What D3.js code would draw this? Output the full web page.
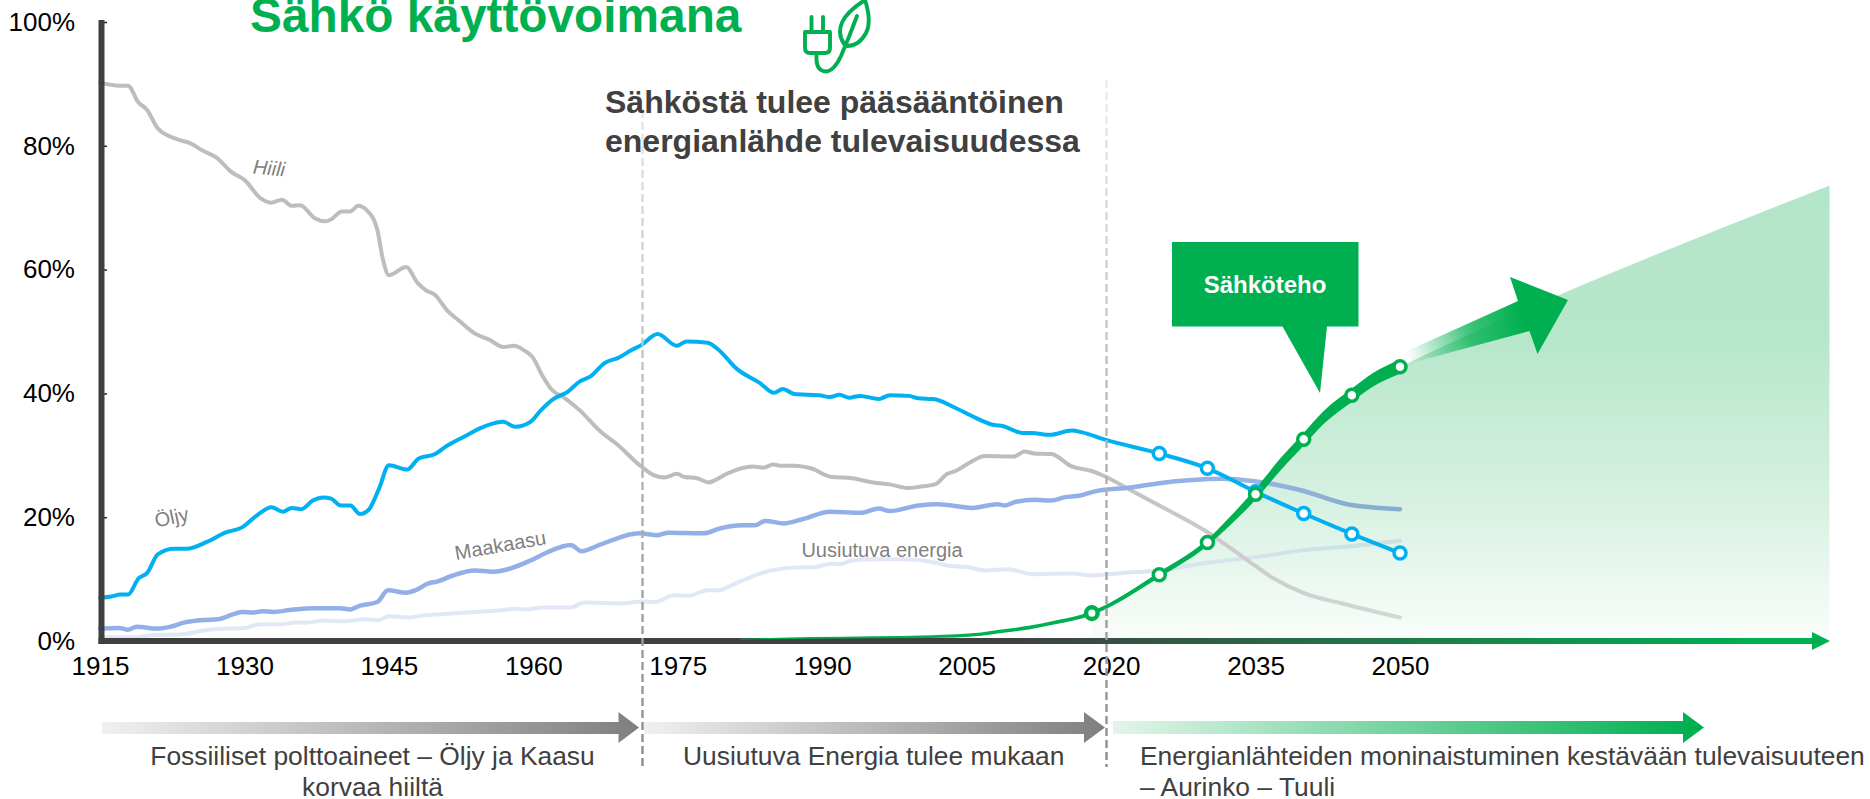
<!DOCTYPE html>
<html>
<head>
<meta charset="utf-8">
<script src="https://cdn.jsdelivr.net/npm/d3@7"></script>
<style>
  html, body { margin: 0; padding: 0; background: #fff; overflow: hidden; }
  text { font-family: "Liberation Sans", Arial, sans-serif; }
</style>
</head>
<body>
<div id="chart"></div>
<script>
// Values: [year, share of energy use in %]
var coal = [[1915,90.2],[1917,89.7],[1917.9,89.7],[1919,87],[1919.9,85.8],[1921,82.8],[1923.1,81],[1924.4,80.4],[1925.7,79.2],[1927,78.2],[1928.7,75.7],[1930,74.5],[1931.7,71.5],[1932.8,70.8],[1933.9,71.3],[1934.9,70.3],[1935.8,70.4],[1937.3,68.3],[1938.4,67.8],[1939,68.1],[1940.1,69.4],[1941,69.4],[1941.8,70.3],[1942.7,69.6],[1943.8,66.4],[1944.4,61.5],[1945,59.1],[1946.8,60.4],[1948,57.8],[1948.9,56.6],[1949.8,55.9],[1951,53.5],[1952.4,51.6],[1953.9,49.7],[1955.4,48.7],[1956.9,47.5],[1958,47.7],[1959,47],[1959.9,45.9],[1961,42.7],[1961.8,40.8],[1963.3,39.2],[1964.8,37.3],[1967,33.8],[1968.6,31.9],[1971.2,28.2],[1972.5,26.8],[1973.6,26.4],[1974.9,27],[1975.7,26.5],[1977,26.3],[1978.2,25.6],[1978.9,26],[1980.2,27.1],[1982.8,28.2],[1983.9,28],[1984.9,28.5],[1985.8,28.3],[1987.1,28.3],[1988.8,27.9],[1991,26.5],[1993.1,26.3],[1995.3,25.6],[1997,25.3],[1999,24.7],[2000,24.9],[2001.7,25.3],[2003,27],[2003.9,27.5],[2005.2,28.7],[2006.9,29.9],[2009.9,29.8],[2011,30.6],[2012,30.3],[2013.8,30.2],[2015.9,28.2],[2017.9,27.5],[2019.2,26.7],[2022,24.4],[2025,21.9],[2029.9,17.7],[2034.2,13],[2036.9,10.1],[2040.1,7.7],[2043.9,6.1],[2050,3.8]];

var oil = [[1915,7],[1916.2,7.2],[1917.1,7.5],[1917.9,7.5],[1919,10.1],[1919.9,11],[1921,14],[1922.7,14.9],[1924,14.9],[1926.1,16],[1928,17.5],[1929.8,18.4],[1931.3,20.3],[1932.8,21.6],[1934,20.9],[1934.9,21.5],[1935.9,21.3],[1937.1,22.7],[1938.2,23.2],[1939,23],[1940,21.9],[1941,21.9],[1942,20.5],[1942.9,21.2],[1944,24.7],[1945,28.4],[1946.9,27.7],[1948.1,29.5],[1949.8,30.2],[1950.9,31.4],[1952.8,33],[1955,34.7],[1956.9,35.4],[1958.1,34.6],[1959.7,35.4],[1960.8,37.3],[1962,39],[1963.6,40.3],[1964.8,41.9],[1965.9,42.7],[1967.4,44.9],[1968.9,45.8],[1970.2,47],[1971.2,47.8],[1972.9,49.6],[1974.9,47.7],[1975.9,48.4],[1978.1,48.2],[1979.2,47.1],[1981.1,44],[1983.5,41.7],[1985,40.1],[1985.9,40.7],[1987.1,39.9],[1989.7,39.7],[1990.8,39.4],[1991.8,39.8],[1992.8,39.3],[1993.9,39.6],[1995.9,39.1],[1997,39.7],[1999,39.6],[2000,39.2],[2001.5,39.1],[2003.9,37.6],[2005.6,36.3],[2007.8,34.9],[2008.8,34.7],[2010.8,33.6],[2011.8,33.6],[2013.6,33.3],[2015.9,34],[2017,33.7],[2019.2,32.6],[2025,30.3],[2030,27.9],[2035,24.1],[2040,20.6],[2045,17.3],[2050,14.2]];

var gas = [[1915,2],[1917,2.1],[1917.9,1.8],[1918.8,2.3],[1921,2],[1922.3,2.3],[1923.8,3],[1925.7,3.4],[1927.2,3.5],[1929.8,4.7],[1930.9,4.6],[1931.9,4.8],[1933,4.7],[1934.7,5],[1937.3,5.3],[1939.9,5.3],[1941,5.1],[1942,5.7],[1943.8,6.3],[1944.9,8.2],[1946.8,7.8],[1947.9,8.3],[1949.1,9.3],[1950,9.6],[1951.5,10.5],[1953.9,11.4],[1955.8,11.2],[1959.7,13],[1961.4,14.3],[1963.9,15.5],[1965,14.5],[1967,15.6],[1971,17.4],[1972.9,17.1],[1974,17.5],[1977.7,17.4],[1979.4,18.2],[1981.7,18.7],[1983,18.7],[1984.1,19.4],[1986,19],[1988,19.7],[1990.8,20.9],[1994,20.7],[1995.9,21.4],[1997,21],[2000,21.9],[2002,22.1],[2005.6,21.5],[2008.2,22.1],[2009,21.9],[2010.1,22.5],[2012.1,22.8],[2013.8,22.7],[2015.1,23.2],[2016.8,23.5],[2018.1,24.1],[2022,24.8],[2025,25.5],[2028.4,26],[2031.4,26.2],[2034.9,25.8],[2039.6,24.4],[2044.5,22.1],[2050,21.3]];

var renewable = [[1915,0.6],[1918.8,0.6],[1920.1,0.9],[1923.6,1.1],[1925.7,1.7],[1928.3,2],[1930,2.1],[1931.7,2.7],[1933.9,2.7],[1935.2,3],[1936.4,2.95],[1938.2,3.3],[1940.3,3.2],[1942.7,3.5],[1944,3.4],[1945,4],[1947,3.8],[1948.9,4.2],[1951,4.4],[1954,4.7],[1956.9,5],[1958,5.2],[1959.2,5.1],[1961,5.4],[1963.8,5.4],[1965.3,6.2],[1969.5,6.1],[1971.2,6.4],[1972.7,6.3],[1974.6,7.4],[1976.1,7.3],[1978.1,8.2],[1979.2,8.2],[1981.1,9.4],[1985,11.5],[1988,11.9],[1989,11.9],[1991,12.5],[1991.8,12.4],[1993.1,13],[1995.3,13.2],[1998.7,13.2],[2001.3,12.8],[2003,12.2],[2005.2,11.9],[2006.9,11.4],[2009.3,11.6],[2011.8,10.8],[2015.9,10.9],[2018.1,10.6],[2021.1,11],[2025,11.4],[2029.8,12.6],[2035.3,13.6],[2039.6,14.6],[2044.9,15.3],[2050,16.2]];

var electricity = [[1981.5,0.3],[1989,0.5],[2001.3,0.7],[2006.5,1.1],[2008.2,1.5],[2011.6,2.2],[2014.2,3],[2018,4.5],[2025,10.7],[2030,15.9],[2032.3,19.3],[2035,23.7],[2037.4,28.2],[2040,32.6],[2042,36],[2045,39.7],[2047.2,42.2],[2050,44.3]];

// Open circles on the forecast part
var oilMarkerYears = [2025, 2030, 2035, 2040, 2045, 2050];
var electricityMarkerYears = [2018, 2025, 2030, 2035, 2040, 2045, 2050];

// Upper edge of the shaded forecast wedge after 2050
var wedgeEdge = [[2050,44.3],[2094.6,73.6]];

var yearTicks = [1915, 1930, 1945, 1960, 1975, 1990, 2005, 2020, 2035, 2050];
var shareTicks = [0, 20, 40, 60, 80, 100];

var w = 1870, h = 799;
var green = "#00b050", blue = "#00b0f0", dark = "#404040";

var x = d3.scaleLinear().domain([1915, 2050]).range([100, 1400]);
var y = d3.scaleLinear().domain([0, 100]).range([641, 22]);

// Thickness of the electricity line grows towards 2050
var thickness = d3.scaleLinear().domain([1981, 1995, 2018, 2030, 2036, 2050]).range([0.5, 2.5, 4, 6.5, 12, 14]);

var svg = d3.select("#chart").append("svg")
    .attr("width", w)
    .attr("height", h)
    .style("display", "block");

var defs = svg.append("defs");

// Helper for horizontal/vertical gradients in page coordinates
function gradient(id, x1, y1, x2, y2, stops) {
    var g = defs.append("linearGradient")
        .attr("id", id)
        .attr("gradientUnits", "userSpaceOnUse")
        .attr("x1", x1).attr("y1", y1)
        .attr("x2", x2).attr("y2", y2);
    stops.forEach(function(s) {
        g.append("stop")
            .attr("offset", s[0])
            .attr("stop-color", s[1])
            .attr("stop-opacity", s[2] === undefined ? 1 : s[2]);
    });
}

gradient("wedgeFill", 0, 186, 0, 640, [[0, "#b3e5c8"], [0.34, "#b7e7cb"], [0.7, "#d7f1e2"], [1, "#fafdfb"]]);
gradient("coalStroke", x(2015), 0, x(2050), 0, [[0, "#bdbdbd"], [0.4, "#c9c9c9"], [1, "#d3d8d5"]]);
gradient("gasStroke", x(2025), 0, x(2045), 0, [[0, "#93afe8"], [0.45, "#99b4e4"], [1, "#86aecf"]]);
gradient("renewableStroke", x(2018), 0, x(2045), 0, [[0, "#dfe8f4"], [1, "#cbe1e4"]]);
gradient("axisStroke", 100, 0, 1760, 0, [[0, dark], [0.55, dark], [1, green]]);
gradient("dashA", 0, 110, 0, 767, [[0, "#e6e6e6"], [0.5, "#b8b8b8"], [1, "#8c8c8c"]]);
gradient("dashB", 0, 80, 0, 767, [[0, "#ededed"], [0.5, "#b8b8b8"], [1, "#8c8c8c"]]);
gradient("phaseGrey1", 102, 0, 640, 0, [[0, "#f0f0f0"], [1, "#7f7f7f"]]);
gradient("phaseGrey2", 644, 0, 1105, 0, [[0, "#f0f0f0"], [1, "#7f7f7f"]]);
gradient("phaseGreen", 1113, 0, 1690, 0, [[0, "#e3f5ea"], [1, green]]);
gradient("bigArrow", 1408, 358, 1520, 312, [[0, green, 0], [0.55, green, 0.75], [1, green, 1]]);

defs.append("filter").attr("id", "soft")
    .append("feGaussianBlur").attr("stdDeviation", 1.6);

// Shaded wedge under the electricity forecast
var wedgeTop = electricity.filter(function(d) { return d[0] >= 2018; }).concat(wedgeEdge.slice(1));
svg.append("path")
    .attr("d", d3.area()
        .x(function(d) { return x(d[0]); })
        .y0(y(0))
        .y1(function(d) { return y(d[1]); })
        .curve(d3.curveMonotoneX)(wedgeTop))
    .attr("fill", "url(#wedgeFill)");

// Share lines
var line = d3.line()
    .x(function(d) { return x(d[0]); })
    .y(function(d) { return y(d[1]); })
    .curve(d3.curveMonotoneX);

function drawSeries(data, stroke, width) {
    svg.append("path")
        .attr("d", line(data))
        .attr("fill", "none")
        .attr("stroke", stroke)
        .attr("stroke-width", width)
        .attr("stroke-linecap", "round")
        .attr("stroke-linejoin", "round");
}

drawSeries(renewable, "url(#renewableStroke)", 4);
drawSeries(coal, "url(#coalStroke)", 4);
drawSeries(gas, "url(#gasStroke)", 4.5);
drawSeries(oil, blue, 4);

// Axes
var yAxis = d3.axisLeft(y).tickValues(shareTicks).tickSize(-6).tickPadding(26)
    .tickFormat(function(d) { return d + "%"; });
var yG = svg.append("g").attr("transform", "translate(101,0)").call(yAxis);
yG.select(".domain").remove();
yG.selectAll("line").attr("stroke", "#222").attr("stroke-width", 1.5);
yG.selectAll("text").attr("font-size", 26).attr("font-family", "Liberation Sans").attr("fill", "#000");

var xAxis = d3.axisBottom(x).tickValues(yearTicks).tickSize(0).tickPadding(16)
    .tickFormat(d3.format("d"));
var xG = svg.append("g").attr("transform", "translate(0," + y(0) + ")").call(xAxis);
xG.select(".domain").remove();
xG.selectAll("text").attr("font-size", 26).attr("font-family", "Liberation Sans").attr("fill", "#000");

svg.append("line")
    .attr("x1", 101.5).attr("x2", 101.5)
    .attr("y1", 20).attr("y2", 644)
    .attr("stroke", dark).attr("stroke-width", 6);

svg.append("rect")
    .attr("x", 98.5).attr("y", 638)
    .attr("width", 1716).attr("height", 6)
    .attr("fill", "url(#axisStroke)");
svg.append("path")
    .attr("d", "M1812,632L1830,641L1812,650Z")
    .attr("fill", green);

// Electricity line: an area so that it can get thicker
svg.append("path")
    .attr("d", d3.area()
        .x(function(d) { return x(d[0]); })
        .y0(function(d) { return y(d[1]) - thickness(d[0]) / 2; })
        .y1(function(d) { return y(d[1]) + thickness(d[0]) / 2; })
        .curve(d3.curveMonotoneX)(electricity))
    .attr("fill", green);

// Period separators
[[642.5, 110, "dashA"], [1106.5, 80, "dashB"]].forEach(function(d) {
    svg.append("line")
        .attr("x1", d[0] + 1).attr("x2", d[0] + 1)
        .attr("y1", d[1]).attr("y2", 768)
        .attr("stroke", "#bbb").attr("stroke-width", 3)
        .attr("stroke-opacity", 0.4)
        .attr("filter", "url(#soft)");
    svg.append("line")
        .attr("x1", d[0]).attr("x2", d[0])
        .attr("y1", d[1]).attr("y2", 767)
        .attr("stroke", "url(#" + d[2] + ")")
        .attr("stroke-width", 2.4)
        .attr("stroke-dasharray", "8 4");
});

// Markers
function valueAt(series, year) {
    return series.filter(function(d) { return d[0] === year; })[0][1];
}

svg.selectAll("circle.oil")
    .data(oilMarkerYears)
    .enter()
    .append("circle")
    .attr("class", "oil")
    .attr("cx", function(d) { return x(d); })
    .attr("cy", function(d) { return y(valueAt(oil, d)); })
    .attr("r", 6)
    .attr("fill", "#fff")
    .attr("stroke", blue)
    .attr("stroke-width", 3.5);

svg.selectAll("circle.el")
    .data(electricityMarkerYears)
    .enter()
    .append("circle")
    .attr("class", "el")
    .attr("cx", function(d) { return x(d); })
    .attr("cy", function(d) { return y(valueAt(electricity, d)); })
    .attr("r", function(d) { return d === 2018 ? 5.8 : 6; })
    .attr("fill", "#fff")
    .attr("stroke", green)
    .attr("stroke-width", function(d) { return d === 2018 ? 4.5 : 3.5; });

// Big forecast arrow
svg.append("path")
    .attr("d", "M1405,352L1518,301L1510,277L1568,300L1537.5,354L1529.5,331L1411,363Z")
    .attr("fill", "url(#bigArrow)");

// Callout
svg.append("path")
    .attr("d", "M1172,242H1358.5V326.5H1327L1320,393L1282.5,326.5H1172Z")
    .attr("fill", green);
svg.append("text")
    .attr("x", 1265).attr("y", 293)
    .attr("text-anchor", "middle")
    .attr("font-size", 24).attr("font-weight", "bold")
    .attr("fill", "#fff")
    .text("Sähköteho");

// Title block
svg.append("text")
    .attr("x", 250).attr("y", 32)
    .attr("font-size", 47.8).attr("font-weight", "bold")
    .attr("fill", green)
    .text("Sähkö käyttövoimana");

["Sähköstä tulee pääsääntöinen", "energianlähde tulevaisuudessa"].forEach(function(t, i) {
    svg.append("text")
        .attr("x", 605).attr("y", 113 + i * 38.5)
        .attr("font-size", 32).attr("font-weight", "bold")
        .attr("fill", dark)
        .text(t);
});

// Plug and leaf icon
var icon = svg.append("g")
    .attr("fill", "none")
    .attr("stroke", green)
    .attr("stroke-width", 3.9)
    .attr("stroke-linecap", "round")
    .attr("stroke-linejoin", "round");
icon.append("path").attr("d", "M811.5,17V32M823,17V32");
icon.append("path").attr("d", "M805,32H830V48Q830,53 825,53H810Q805,53 805,48Z");
icon.append("path").attr("d", "M816.5,53V60Q817,71 826,71.5Q834,71 841,56Q850,35 857,16");
icon.append("path").attr("d", "M844,44Q830,22 865,0Q872,22 866,33Q859,46 847,46");

// Series labels
var seriesLabels = [
    { text: "Hiili", x: 268.5, y: 175, rotate: 5, italic: true },
    { text: "Öljy", x: 173, y: 524, rotate: -12 },
    { text: "Maakaasu", x: 501.5, y: 552, rotate: -10 },
    { text: "Uusiutuva energia", x: 882, y: 557, rotate: 0 }
];
seriesLabels.forEach(function(d) {
    svg.append("text")
        .attr("transform", "translate(" + d.x + "," + d.y + ") rotate(" + d.rotate + ")")
        .attr("text-anchor", "middle")
        .attr("font-size", 20)
        .attr("font-style", d.italic ? "italic" : "normal")
        .attr("fill", "#7f7f7f")
        .text(d.text);
});

// Period arrows
[
    ["M102,722H618.5V712L639,727.5L618.5,743V734H102Z", "phaseGrey1"],
    ["M644,722H1084V712L1105,727.5L1084,743V734H644Z", "phaseGrey2"],
    ["M1113,721H1683V712L1704,727.5L1683,743V734H1113Z", "phaseGreen"]
].forEach(function(d) {
    svg.append("path").attr("d", d[0]).attr("fill", "url(#" + d[1] + ")");
});

// Period texts
var periodTexts = [
    { text: "Fossiiliset polttoaineet – Öljy ja Kaasu", x: 372.5, y: 765, anchor: "middle" },
    { text: "korvaa hiiltä", x: 372.5, y: 796, anchor: "middle" },
    { text: "Uusiutuva Energia tulee mukaan", x: 683, y: 765, anchor: "start" },
    { text: "Energianlähteiden moninaistuminen kestävään tulevaisuuteen", x: 1140, y: 765, anchor: "start" },
    { text: "– Aurinko – Tuuli", x: 1140, y: 796, anchor: "start" }
];
periodTexts.forEach(function(d) {
    svg.append("text")
        .attr("x", d.x).attr("y", d.y)
        .attr("text-anchor", d.anchor)
        .attr("font-size", 26.4)
        .attr("fill", dark)
        .text(d.text);
});
</script>
</body>
</html>
